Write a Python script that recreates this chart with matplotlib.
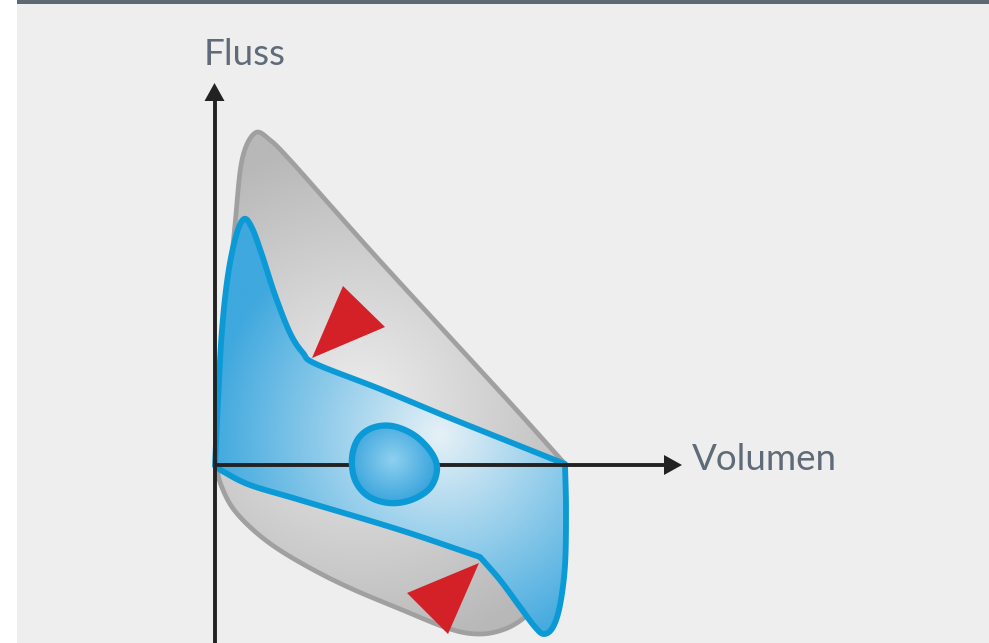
import numpy as np
import matplotlib
matplotlib.use("Agg")
import matplotlib.pyplot as plt
from matplotlib.patches import Polygon, Rectangle
from matplotlib.colors import to_rgb

# ---- shape data (pixel coordinates of the illustration) ----
gray_upper = [(216, 466), (222, 380), (229, 290), (235, 225), (242, 160), (255, 133),
              (270, 140), (290, 160), (330, 205), (380, 261), (447, 334), (513, 406), (565, 464)]
gray_lower = [(565, 464), (558, 545), (540, 600), (525, 617), (505, 629), (480, 634),
              (450, 629), (400, 609), (350, 588), (310, 568), (275, 547), (250, 527),
              (232, 507), (221, 485), (216, 466)]

blue_top = [(215, 466), (218, 400), (222, 330), (228, 275), (236, 236), (244, 219),
            (252, 228), (262, 255), (275, 295), (290, 333), (303, 353), (316, 364),
            (380, 389), (450, 418), (520, 446), (565, 464)]
blue_right = [(565, 464), (566, 510), (565, 565), (560, 605), (553, 627), (544, 634),
              (535, 627), (520, 607), (500, 580), (480, 557)]
blue_bottom = [(480, 557), (400, 530), (300, 500), (250, 485), (224, 472), (215, 466)]

blob = [(358, 439), (372, 428), (392, 426), (414, 435), (431, 452), (437, 469),
        (430, 488), (411, 500), (389, 503), (368, 496), (355, 480), (352, 458)]

tri_upper = [(343, 286), (385, 327), (312, 358)]
tri_lower = [(407, 593), (479, 563), (448, 634)]

axis_origin = (214.5, 465)
axis_y_tip = 83
axis_x_tip = 682
axis_bottom = 643

label_y = "Fluss"
label_x = "Volumen"


def catmull(pts, n=24, closed=False):
    p = np.array(pts, float)
    if closed:
        p = np.vstack([p[-1], p, p[0], p[1]])
    else:
        p = np.vstack([2 * p[0] - p[1], p, 2 * p[-1] - p[-2]])
    out = []
    t = np.linspace(0, 1, n, endpoint=False)[:, None]
    for i in range(1, len(p) - 2):
        p0, p1, p2, p3 = p[i - 1], p[i], p[i + 1], p[i + 2]
        c = 0.5 * ((2 * p1) + (-p0 + p2) * t + (2 * p0 - 5 * p1 + 4 * p2 - p3) * t ** 2
                   + (-p0 + 3 * p1 - 3 * p2 + p3) * t ** 3)
        out.append(c)
    out.append(p[-2][None, :])
    return np.vstack(out)


def radial_fill(ax, poly, center, radius, c_in, c_out, zorder):
    xs, ys = poly[:, 0], poly[:, 1]
    x0, x1, y0, y1 = xs.min() - 5, xs.max() + 5, ys.min() - 5, ys.max() + 5
    X, Y = np.meshgrid(np.linspace(x0, x1, 300), np.linspace(y0, y1, 300))
    r = np.clip(np.hypot(X - center[0], Y - center[1]) / radius, 0, 1)[..., None]
    ci, co = np.array(to_rgb(c_in)), np.array(to_rgb(c_out))
    img = ci * (1 - r) + co * r
    patch = Polygon(poly, closed=True, facecolor="none", edgecolor="none", zorder=zorder)
    ax.add_patch(patch)
    im = ax.imshow(img, extent=(x0, x1, y1, y0), origin="upper", zorder=zorder,
                   interpolation="bilinear", aspect="auto")
    im.set_clip_path(patch)


W, H = 989, 643
fig = plt.figure(figsize=(W / 100, H / 100), dpi=100, facecolor="white")
ax = fig.add_axes([0, 0, 1, 1])
ax.set_xlim(0, W)
ax.set_ylim(H, 0)
ax.axis("off")

ax.add_patch(Rectangle((17, 0), W - 17, H, facecolor="#eeeeee", edgecolor="none", zorder=0))
ax.add_patch(Rectangle((17, 0), W - 17, 3.5, facecolor="#5d6873", edgecolor="none", zorder=1))

# gray shape
gray = np.vstack([catmull(gray_upper), catmull(gray_lower)[1:]])
radial_fill(ax, gray, (360, 400), 260, "#ececec", "#b8b8b8", 2)
ax.add_patch(Polygon(gray, closed=True, facecolor="none", edgecolor="#a0a0a0", lw=3.4,
                     joinstyle="round", zorder=3))

# blue loop
blue = np.vstack([catmull(blue_top), catmull(blue_right)[1:], catmull(blue_bottom)[1:]])
radial_fill(ax, blue, (440, 435), 230, "#e6f1f7", "#3fa8de", 4)
ax.add_patch(Polygon(blue, closed=True, facecolor="none", edgecolor="#0b9ad6", lw=4.2,
                     joinstyle="round", zorder=5))

# axes
ox, oy = axis_origin
ax.plot([ox, ox], [axis_bottom, axis_y_tip + 14], color="#222222", lw=2.8, zorder=6,
        solid_capstyle="butt")
ax.plot([ox, axis_x_tip - 14], [oy, oy], color="#222222", lw=2.8, zorder=6,
        solid_capstyle="butt")
ax.add_patch(Polygon([(ox, axis_y_tip), (ox - 10, axis_y_tip + 18), (ox + 10, axis_y_tip + 18)],
                     closed=True, facecolor="#222222", edgecolor="none", zorder=6))
ax.add_patch(Polygon([(axis_x_tip, oy), (axis_x_tip - 18, oy - 10), (axis_x_tip - 18, oy + 10)],
                     closed=True, facecolor="#222222", edgecolor="none", zorder=6))

# blob
bl = catmull(blob, closed=True)
radial_fill(ax, bl, (392, 460), 50, "#8fd0f0", "#2f9fda", 7)
ax.add_patch(Polygon(bl, closed=True, facecolor="none", edgecolor="#0b9ad6", lw=4.5, zorder=8))

# triangles
for t in (tri_upper, tri_lower):
    ax.add_patch(Polygon(t, closed=True, facecolor="#d42027", edgecolor="none", zorder=9))

ax.text(204, 65, label_y, fontsize=26.5, family="Lato", color="#5f6b78", ha="left",
        va="baseline", zorder=10)
ax.text(692, 470, label_x, fontsize=26.5, family="Lato", color="#5f6b78", ha="left",
        va="baseline", zorder=10)

fig.savefig("out.png", dpi=100, facecolor="white")
